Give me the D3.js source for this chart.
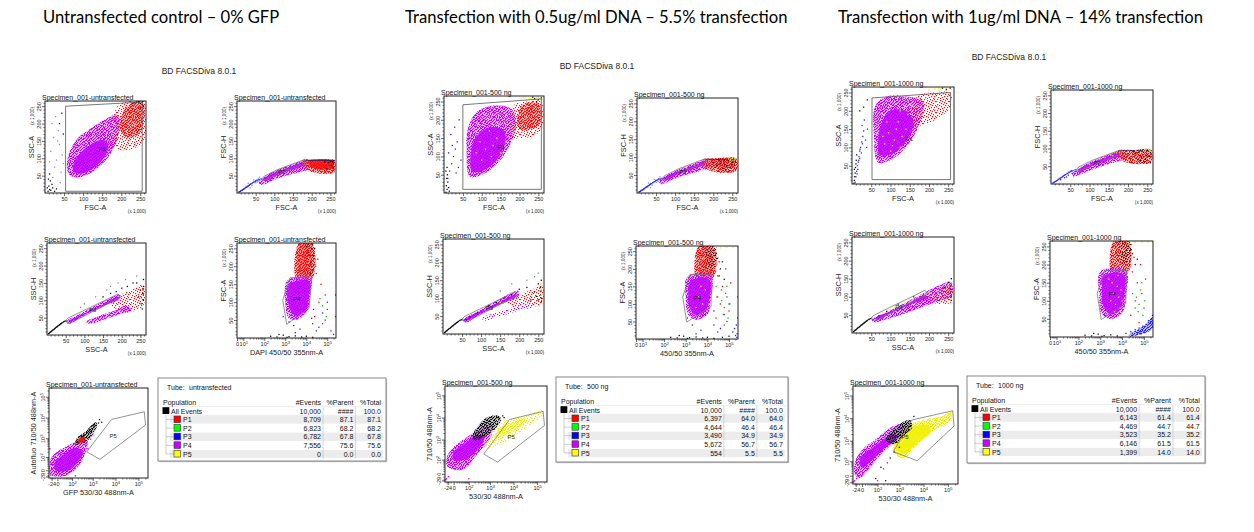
<!DOCTYPE html>
<html><head><meta charset="utf-8">
<script src="https://cdn.jsdelivr.net/npm/d3@7"></script>
<style>body{margin:0;background:#fff;}svg{display:block;}</style>
</head><body><svg id="chart" width="1254" height="532"></svg>
<script>
// ================= TEXT =================
const panelTitles = ["Untransfected control \u2013 0% GFP","Transfection with 0.5ug/ml DNA \u2013 5.5% transfection","Transfection with 1ug/ml DNA \u2013 14% transfection"];
const softwareLabel = "BD FACSDiva 8.0.1";
const specimenNames = ["Specimen_001-untransfected","Specimen_001-500 ng","Specimen_001-1000 ng"];
const tubeNames = ["untransfected","500 ng","1000 ng"];
const xLabels = {A:["FSC-A","FSC-A","FSC-A"],B:["FSC-A","FSC-A","FSC-A"],C:["SSC-A","SSC-A","SSC-A"],D:["DAPI 450/50 355nm-A","450/50 355nm-A","450/50 355nm-A"],E:["GFP 530/30 488nm-A","530/30 488nm-A","530/30 488nm-A"]};
const yLabels = {A:["SSC-A","SSC-A","SSC-A"],B:["FSC-H","FSC-H","FSC-H"],C:["SSC-H","SSC-H","SSC-H"],D:["FSC-A","FSC-A","FSC-A"],E:["Autofluo 710/50 488nm-A","710/50 488nm-A","710/50 488nm-A"]};

// ================= TABLE DATA =================
const populations = ["All Events","P1","P2","P3","P4","P5"];
const events1 = [10000,8709,6823,6782,7556,0];
const events2 = [10000,6397,4644,3490,5672,554];
const events3 = [10000,6143,4469,3523,6146,1399];
const parent1 = [null,87.1,68.2,67.8,75.6,0.0];
const parent2 = [null,64.0,46.4,34.9,56.7,5.5];
const parent3 = [null,61.4,44.7,35.2,61.5,14.0];
const total1 = [100.0,87.1,68.2,67.8,75.6,0.0];
const total2 = [100.0,64.0,46.4,34.9,56.7,5.5];
const total3 = [100.0,61.4,44.7,35.2,61.5,14.0];

// ================= AXIS TICKS =================
const linMajor = [50,100,150,200,250];
const logMajor = [5,10,100,1000,10000,100000];
const biexMajorX = [-24,0,100,1000,10000,100000];
const biexMajorY = [-29,0,100,1000,10000,100000];

// ================= GATES =================
const gateP1_1 = [[54,5],[54,250],[255,262],[255,5]];
const gateP1_2 = [[50,10],[50,241],[258,257],[258,10]];
const gateP1_3 = [[52,12],[52,235],[256,250],[256,12]];
const gateP2 = [[65,38],[72,48],[110,68],[150,84],[180,96],[182,84],[145,70],[110,55],[72,36]];
const gateP3 = [[50,40],[55,48],[190,118],[196,108],[60,33]];
const gateP4_1 = [[1680,168],[18000,171],[16000,128],[13500,83],[1170,38],[760,106]];
const gateP4_23 = [[1580,184],[15960,184],[14800,92],[1110,48],[726,120]];
const gateP5_12 = [[6800,8200],[180000,19000],[205000,4400],[2100,71],[530,200]];
const gateP5_3 = [[3270,8340],[159200,21450],[180000,4542],[5580,106],[549,308]];

// ================= STREAKS (saturation / doublet lines) =================
const fscHSatLine = [[178,94],[262,94]];
const fscOriginStreak = [[4,2],[20,13],[40,28],[66,42]];
const sscOriginStreak = [[3,3],[20,18],[40,35],[52,42]];

// ================= PANEL 1 (untransfected) =================
const p1A_mag = [[62,55],[85,45],[115,55],[145,78],[170,110],[188,150],[196,195],[190,225],[168,218],[140,200],[112,180],[88,160],[68,128],[58,92]];
const p1A_magCore = [[74,62],[98,56],[128,72],[152,98],[166,128],[160,150],[142,152],[118,138],[95,118],[78,92]];
const p1A_red = [[178,150],[195,125],[225,125],[250,140],[262,160],[262,262],[220,264],[190,250],[178,200]];
const p1A_redCore = [[195,190],[215,160],[245,170],[258,200],[258,255],[225,258],[205,235]];
const p1A_blu = [[15,120],[22,160],[30,95],[38,140],[25,75],[42,60],[18,200],[35,180],[45,110],[28,220],[40,30],[20,45],[48,85],[33,150],[12,90]];
const p1A_blk = [[8,5],[12,10],[10,20],[15,8],[6,15],[18,25],[14,35],[9,40],[20,15],[25,5],[30,12],[12,55],[38,200],[44,230],[48,170],[240,262],[250,258],[245,264],[255,262],[235,260],[250,245],[258,250],[230,258],[248,263],[256,256]];

const p1B_mag = [[58,32],[75,48],[105,65],[140,80],[175,92],[190,92],[192,70],[165,60],[130,50],[100,38],[80,28],[65,24]];
const p1B_magCore = [[70,40],[100,58],[140,74],[178,88],[180,80],[145,66],[105,50],[75,34]];
const p1B_red = [[175,95],[215,95],[260,94],[260,60],[230,55],[205,60],[185,68],[172,80]];
const p1B_redCore = [[190,92],[256,92],[256,72],[220,68],[195,78]];
const p1B_bluLine = [[5,3],[7,4],[9,5],[11,7],[13,8],[15,9],[17,11],[19,12],[21,14],[23,16],[25,17],[27,18],[29,20],[31,21],[33,23],[35,25],[37,26],[41,29],[45,32],[49,35],[53,37],[57,40]];
const p1B_lblu = [[30,28],[45,38],[50,30],[40,22],[60,45],[55,32],[35,15]];
const p1B_blk = [[255,90],[258,85],[252,80],[257,75],[250,92],[258,93],[245,88],[240,70],[235,90],[258,70]];

const p1C_magUp = [[50,38],[90,62],[140,90],[180,112],[195,118],[198,106],[150,82],[100,56],[58,32]];
const p1C_magUpCore = [[58,40],[100,62],[150,88],[190,110],[192,105],[150,84],[100,58],[60,37]];
const p1C_magLow = [[105,38],[140,55],[180,70],[215,85],[225,72],[190,58],[150,44],[115,32]];
const p1C_red = [[165,95],[200,118],[235,135],[258,145],[258,85],[235,70],[210,65],[185,75]];
const blkOriginLine = [[4,4],[6,6],[8,8],[10,9],[12,11],[14,13],[16,15],[18,16],[20,18],[22,20],[24,22],[26,23],[28,25],[30,27],[32,28],[34,30],[36,32],[38,33],[40,35],[44,38],[48,40]];
const p1C_blk = [[258,100],[256,120],[258,140],[252,90],[255,75],[250,130],[245,110],[258,160],[240,150],[230,150],[215,140],[200,135],[185,125],[170,120],[150,110],[258,115],[257,130]];
const p1C_gry = [[100,90],[130,110],[160,130],[190,150],[210,160],[240,170],[90,80],[170,140]];

const p1D_mag = [[1250,160],[16500,168],[15500,120],[12000,78],[4000,52],[1500,55],[1000,100]];
const p1D_magCore = [[1500,150],[14000,158],[13000,110],[9000,75],[3000,62],[1400,95]];
const p1D_red = [[3600,162],[19000,166],[19000,265],[4500,265]];
const p1D_redCore = [[5000,170],[13000,172],[12000,262],[6000,262]];
const p1D_blk = [[12000,240],[15000,230],[18000,250],[20000,262],[14000,200],[17000,210],[16000,180],[22000,230],[10000,255],[13000,262],[19000,190],[25000,250],[200,5],[400,3],[800,8],[1500,4],[3000,6],[6000,3],[10000,5],[20000,2],[500,10],[1200,2]];
const p1D_redDots = [[30000,180],[50000,150],[80000,120],[40000,100],[25000,60],[60000,40],[100000,80],[35000,220],[28000,200]];
const p1D_bluDots = [[20000,40],[40000,30],[80000,50],[150000,20],[200000,10],[250000,60],[250000,120],[100000,100],[60000,70],[30000,20],[5000,25],[3000,15],[800,60],[1500,45],[2500,35],[18000,55],[22000,80]];
const p1D_grnDots = [[60000,90],[90000,60],[45000,110]];

const p1E_mag = [[-30,-17],[45,-23],[206,17],[446,158],[569,723],[270,816],[65,446],[0,206],[-30,65]];
const p1E_magCore = [[-8,0],[65,0],[206,45],[346,206],[158,346],[30,158],[-8,45]];
const p1E_blk = [[150,500],[500,650],[1600,4500],[1300,6000],[450,2000],[180,1000]];
const p1E_red = [[200,600],[420,700],[450,1100],[250,1050]];
const p1E_blkDots = [[2000,8000],[1800,5500],[900,3000],[700,2600],[2500,6000],[1100,4000],[400,1500],[300,1200]];
const p1E_magDots = [[-30,-20],[600,300],[800,900],[-35,300],[150,-25],[1000,1500]];

// ================= PANEL 2 (500 ng) =================
const p2A_mag = [[69,45],[100,50],[143,82],[178,138],[191,188],[178,230],[134,239],[91,225],[65,184],[60,119]];
const p2A_magCore = [[75,60],[105,62],[140,90],[160,130],[160,170],[130,180],[95,165],[75,130]];
const p2A_red = [[178,150],[200,150],[235,155],[258,175],[258,248],[220,250],[185,240],[176,200]];
const p2A_redCore = [[200,175],[250,185],[255,240],[215,245],[195,215]];
const p2A_yel = [[205,258],[215,260],[225,259],[235,261],[245,260],[255,258],[260,255],[230,258],[210,261],[250,262],[110,120],[125,100],[95,140],[140,150],[120,170],[100,90],[150,110],[85,110],[130,130]];
const p2A_blu = [[10,40],[15,60],[20,80],[25,100],[30,120],[35,140],[18,160],[28,180],[40,200],[45,90],[12,110],[38,70],[22,130],[32,55]];
const p2A_blk = [[5,2],[8,10],[6,20],[10,30],[7,40],[9,50],[12,15],[14,5],[5,60],[8,70],[240,258],[250,255],[258,260],[245,250],[235,262]];

const p2B_mag = [[58,34],[80,50],[110,66],[145,80],[180,93],[192,88],[190,72],[160,60],[120,48],[90,36],[72,27],[62,25]];
const p2B_magCore = [[70,40],[100,58],[140,74],[176,88],[178,80],[145,66],[105,50],[75,35]];
const p2B_red = [[172,92],[215,96],[260,96],[260,62],[230,56],[200,60],[180,70]];
const p2B_redCore = [[190,92],[255,94],[255,75],[220,70],[195,80]];
const p2B_blk = [[200,85],[210,78],[220,88],[230,80],[240,90],[250,85],[255,78],[245,70],[235,75],[225,68],[215,92],[205,72],[258,88],[252,94],[238,95],[228,90],[218,82],[248,80],[242,62],[232,65]];
const p2B_yel = [[240,95],[250,96],[258,95],[255,92],[245,93],[150,78],[130,70],[110,62],[160,82],[120,66]];

const p2C_magUp = [[50,38],[90,62],[140,92],[185,118],[198,120],[198,106],[150,82],[100,56],[58,32]];
const p2C_magUpCore = [[60,42],[100,64],[150,90],[190,110],[190,104],[150,84],[100,58],[62,38]];
const p2C_magLow = [[100,45],[150,62],[200,80],[235,92],[238,78],[200,66],[150,50],[110,38]];
const p2C_red = [[170,90],[205,112],[245,130],[260,140],[260,85],[235,75],[205,70],[180,76]];
const p2C_blk = [[258,90],[258,100],[256,110],[257,120],[255,130],[250,95],[245,105],[240,118],[230,95],[250,140],[258,150],[220,130],[200,125],[180,110],[160,100],[120,80],[90,60],[70,48],[60,40],[140,88]];
const p2C_gry = [[150,120],[180,140],[220,150],[250,170],[240,160]];
const p2C_yel = [[258,110],[258,125],[256,140],[150,88],[110,68]];

const p2D_mag = [[1200,178],[15000,182],[14000,110],[10000,70],[3000,55],[1300,70],[1000,120]];
const p2D_magCore = [[1600,165],[12000,170],[12000,110],[8000,80],[3000,68],[1500,90],[1300,130]];
const p2D_red = [[3240,173],[19000,175],[19000,265],[4000,265]];
const p2D_redCore = [[5000,180],[14000,182],[13000,262],[6000,262]];
const p2D_blkCloud = [[9000,200],[22000,205],[24000,265],[10000,265]];
const p2D_blk = [[25000,245],[30000,230],[40000,200],[35000,180],[50000,220],[60000,170],[200,5],[400,3],[800,8],[1500,4],[3000,6],[6000,3],[10000,5],[20000,2],[500,10],[1200,2],[50000,5],[100000,8]];
const p2D_redDots = [[30000,180],[50000,150],[80000,120],[40000,100],[25000,60],[60000,40],[100000,80],[35000,220],[70000,200],[120000,160],[45000,140],[28000,120]];
const p2D_grn = [[60000,90],[90000,60],[45000,110],[70000,130],[110000,100],[55000,70],[30000,120],[80000,150],[25000,150]];
const p2D_blu = [[20000,40],[40000,30],[80000,50],[150000,20],[200000,10],[250000,60],[250000,120],[100000,100],[60000,70],[30000,20],[5000,25],[3000,15],[230000,5],[240000,15],[180000,30],[220000,40],[20000,80],[1200,60],[2000,40]];
const p2D_yel = [[20000,262],[40000,260],[80000,262],[150000,261],[250000,262],[4000,120],[6000,100],[8000,140],[3000,90],[5000,150],[7000,230],[10000,210]];

const p2E_mag = [[-23,30],[45,17],[270,206],[1164,1474],[1037,4725],[346,2970],[65,1164],[0,446],[-30,120]];
const p2E_magCore = [[0,89],[89,120],[346,446],[569,1474],[206,1474],[45,569],[0,270]];
const p2E_yel = [[723,446],[5960,919],[37740,3750],[189300,13340],[168700,21210],[29970,11910],[4725,7510],[1164,2347],[569,919]];
const p2E_yelCore = [[1864,1164],[29970,5960],[29970,9470],[1864,2347]];
const p2E_blk = [[206,919],[919,1864],[2970,7510],[2347,12000],[723,10000],[270,3750],[158,1474]];
const p2E_blkDots = [[1500,3000],[2500,9000],[600,6000],[300,2000],[3500,12000],[4000,10000]];
const p2E_magDots = [[-30,-20],[-35,-25],[100,-20],[40,300],[-20,-10]];

// ================= PANEL 3 (1000 ng) =================
const p3A_mag = [[68,59],[105,68],[151,116],[180,178],[184,226],[138,239],[89,239],[60,213],[57,134]];
const p3A_magCore = [[72,80],[110,85],[145,125],[160,170],[140,200],[100,200],[75,160],[68,110]];
const p3A_red = [[165,160],[195,165],[230,185],[256,210],[256,248],[210,250],[170,240],[155,200]];
const p3A_yel = [[110,120],[125,100],[95,140],[140,150],[120,170],[100,90],[150,110],[85,110],[130,130],[115,150],[105,105],[135,85],[90,170],[145,190],[125,200],[80,130],[200,258],[215,260],[230,259],[245,261],[258,258],[225,262]];
const p3A_blu = [[8,5],[10,20],[12,35],[14,50],[16,60],[18,75],[20,90],[22,100],[25,115],[28,130],[30,145],[26,160],[32,175],[15,40],[20,70],[24,85],[13,28],[35,120],[40,150],[38,100],[17,65],[21,95],[27,110]];
const p3A_blk = [[5,2],[6,10],[7,20],[8,30],[9,45],[10,55],[11,65],[6,40],[12,80],[20,200],[30,210],[40,230],[245,258],[255,262],[235,262]];

const p3B_mag = [[56,30],[80,48],[110,66],[145,82],[180,94],[192,90],[190,72],[160,60],[120,46],[90,34],[70,24],[58,22]];
const p3B_magCore = [[70,40],[100,58],[140,75],[176,89],[178,80],[145,66],[105,50],[75,34]];
const p3B_red = [[172,92],[215,96],[260,96],[260,62],[230,56],[200,60],[180,70]];
const p3B_blk = [[200,85],[210,78],[220,88],[230,80],[240,90],[250,85],[255,78],[245,70],[235,75],[225,68],[215,92],[205,72],[258,88],[252,94],[238,95],[228,90],[218,82],[248,80],[242,62],[232,65],[210,60],[258,60]];
const p3B_yel = [[80,50],[95,58],[110,64],[125,70],[140,76],[155,82],[170,88],[100,55],[130,72],[160,80],[200,92],[220,95],[240,94],[255,95],[230,85],[210,80],[250,88],[245,96],[258,96]];
const p3B_blu = [[5,3],[8,5],[11,7],[14,9],[17,11],[20,14],[23,16],[26,18],[29,20],[32,23],[35,25],[38,27],[42,30],[46,33],[50,36],[54,38],[25,12],[35,18],[45,25],[55,30],[40,20]];

const p3C_mag = [[50,36],[100,62],[150,90],[200,118],[235,135],[258,140],[258,100],[230,90],[190,75],[140,55],[95,40],[60,30]];
const p3C_magCore = [[60,40],[110,64],[160,90],[190,105],[195,98],[150,78],[105,57],[65,36]];
const p3C_red = [[200,95],[230,120],[258,135],[258,85],[235,80],[215,82]];
const p3C_yel = [[80,55],[100,65],[120,75],[140,85],[160,95],[180,105],[200,112],[220,115],[240,120],[110,72],[150,92],[170,100],[190,108],[130,82],[250,130],[258,110],[258,95]];
const p3C_blk = [[258,90],[258,100],[256,110],[257,120],[255,130],[258,150],[250,140],[240,125],[120,80],[90,60],[70,48],[160,100]];

const p3D_mag = [[1000,180],[15000,184],[15000,110],[10000,65],[3000,50],[1200,62],[900,120]];
const p3D_magCore = [[1400,168],[12000,172],[12000,110],[8000,75],[3000,62],[1400,85],[1200,130]];
const p3D_red = [[3500,176],[19000,178],[19000,265],[4200,265]];
const p3D_blkCloud = [[9000,205],[22000,210],[24000,265],[10000,265]];
const p3D_blu = [[20000,2],[100000,10],[250000,25],[250000,55],[150000,40],[60000,22],[25000,10]];
const p3D_yel = [[3000,100],[4000,120],[5000,90],[6000,140],[7000,110],[8000,80],[3500,150],[9000,130],[4500,70],[10000,100],[2500,160],[6500,170],[20000,262],[40000,261],[80000,262],[150000,262],[250000,261],[8000,220],[12000,240]];
const p3D_blk = [[25000,240],[30000,230],[40000,200],[50000,215],[200,5],[400,3],[800,8],[1500,4],[3000,6],[6000,3],[500,10],[1200,2]];
const p3D_redDots = [[30000,180],[50000,150],[80000,120],[40000,100],[25000,60],[60000,40],[100000,80],[35000,220],[70000,200],[120000,160]];
const p3D_grn = [[60000,90],[90000,60],[45000,110],[70000,130],[110000,100],[55000,70],[30000,120],[80000,150],[40000,80]];
const p3D_bluDots = [[15000,10],[25000,15],[40000,20],[60000,25],[90000,30],[130000,35],[200000,40],[250000,30],[180000,20],[100000,15],[70000,10],[50000,8],[30000,5],[220000,50],[250000,60],[160000,45]];

const p3E_mag = [[-28,89],[0,372],[73,1077],[395,3705],[1292,5550],[1725,2466],[651,873],[135,212],[23,23],[-6,-8],[-28,2]];
const p3E_magCore = [[-6,149],[73,573],[483,2004],[873,1630],[235,462],[34,89],[0,35]];
const p3E_yel = [[549,308],[901,1516],[3810,5970],[47850,11700],[144900,19440],[123300,8340],[18600,2154],[4470,531],[1464,143]];
const p3E_yelCore = [[700,400],[1200,1400],[3500,4000],[15000,5000],[20000,2500],[5000,700],[1600,250]];
const p3E_blk = [[261,1077],[534,3018],[1422,6828],[2784,8340],[3366,3696],[1422,1630],[651,708]];
const p3E_magDots = [[-30,-20],[-35,-25],[100,-20],[40,300],[-20,-10],[300,80],[200,30],[-10,200]];
const p3E_blkDots = [[150,40],[400,150],[80,-10],[600,300],[1000,500],[4000,12000],[250,-20]];

// ================= STYLE / LAYOUT =================
const FONT = "'Liberation Sans', Arial, sans-serif";
const COL = {mag:'#c200ff', red:'#ff0a0a', blk:'#111111', blu:'#2424ff', lblu:'#8a8aff', yel:'#f0f000', grn:'#00c000', gry:'#8c8c8c', navy:'#1a1a66'};
const popColors = ['#000000','#ff0000','#00ff00','#0000ff','#cc00ff','#ffff00'];
const layout = [
 {title:[43,22.5], diva:[199,74], A:[45,101,146,193], B:[237,101,336,193], C:[47,243,146,335], D:[237,243,336,338], E:[49,388,148,478], table:[158,378,386,461]},
 {title:[405,22.5], diva:[597,69], A:[444,96,544,193], B:[637,98,738,193], C:[443,239,544,334], D:[636,246,738,339], E:[445,386,547,482], table:[556,377,788,462]},
 {title:[838,22.5], diva:[1009,60], A:[852,87,954,184], B:[1051,90,1153,184], C:[852,237,954,333], D:[1050,241,1153,337], E:[853,386,958,484], table:[967,376,1205,463]}
];

const specs = [
 { A:{xType:'lin',yType:'lin',gate:gateP1_1,gl:'P1',glPos:[150,127],clouds:[[p1A_mag,'mag','M'],[p1A_magCore,'mag','S'],[p1A_red,'red','L'],[p1A_redCore,'red','M']],dots:[[p1A_blu,'lblu'],[p1A_blk,'blk']]},
   B:{xType:'lin',yType:'lin',gate:gateP2,gl:'P2',glPos:[120,60],clouds:[[p1B_mag,'mag','M'],[p1B_magCore,'mag','S'],[p1B_red,'red','M'],[p1B_redCore,'red','S']],dots:[[p1B_bluLine,'blu'],[p1B_lblu,'lblu'],[p1B_blk,'blk']],lines:[[fscHSatLine,'navy'],[fscOriginStreak,'blu']]},
   C:{xType:'lin',yType:'lin',gate:gateP3,gl:'P3',glPos:[122,73],clouds:[[p1C_red,'red','L'],[p1C_magLow,'mag','M'],[p1C_magUp,'mag','M'],[p1C_magUpCore,'mag','S']],dots:[[blkOriginLine,'blk'],[p1C_blk,'blk'],[p1C_gry,'gry']],lines:[[sscOriginStreak,'blk']]},
   D:{xType:'log',yType:'lin',gate:gateP4_1,gl:'P4',glPos:[3500,108],clouds:[[p1D_red,'red','M'],[p1D_redCore,'red','M'],[p1D_mag,'mag','M'],[p1D_magCore,'mag','S']],dots:[[p1D_blk,'blk'],[p1D_redDots,'red'],[p1D_bluDots,'blu'],[p1D_grnDots,'grn']]},
   E:{xType:'biex',yType:'biex',gate:gateP5_12,gl:'P5',glPos:[8000,1280],clouds:[[p1E_mag,'mag','M'],[p1E_magCore,'mag','S'],[p1E_blk,'blk','M'],[p1E_red,'red','S']],dots:[[p1E_blkDots,'blk'],[p1E_magDots,'mag']]} },
 { A:{xType:'lin',yType:'lin',gate:gateP1_2,gl:'P1',glPos:[152,126],clouds:[[p2A_mag,'mag','M'],[p2A_magCore,'mag','S'],[p2A_red,'red','L'],[p2A_redCore,'red','M']],dots:[[p2A_yel,'yel'],[p2A_blu,'blu'],[p2A_blk,'blk']]},
   B:{xType:'lin',yType:'lin',gate:gateP2,gl:'P2',glPos:[120,60],clouds:[[p2B_mag,'mag','M'],[p2B_magCore,'mag','S'],[p2B_red,'red','M'],[p2B_redCore,'red','M']],dots:[[p1B_bluLine,'blu'],[p1B_lblu,'lblu'],[p2B_blk,'blk'],[p2B_yel,'yel']],lines:[[fscHSatLine,'navy'],[fscOriginStreak,'blu']]},
   C:{xType:'lin',yType:'lin',gate:gateP3,gl:'P3',glPos:[122,73],clouds:[[p2C_red,'red','L'],[p2C_magLow,'mag','L'],[p2C_magUp,'mag','M'],[p2C_magUpCore,'mag','S']],dots:[[blkOriginLine,'blk'],[p2C_blk,'blk'],[p2C_gry,'gry'],[p2C_yel,'yel']],lines:[[sscOriginStreak,'blk']]},
   D:{xType:'log',yType:'lin',gate:gateP4_23,gl:'P4',glPos:[3500,118],clouds:[[p2D_red,'red','M'],[p2D_redCore,'red','M'],[p2D_blkCloud,'blk','L'],[p2D_mag,'mag','M'],[p2D_magCore,'mag','S']],dots:[[p2D_blk,'blk'],[p2D_redDots,'red'],[p2D_grn,'grn'],[p2D_blu,'blu'],[p2D_yel,'yel']]},
   E:{xType:'biex',yType:'biex',gate:gateP5_12,gl:'P5',glPos:[8000,1280],clouds:[[p2E_mag,'mag','M'],[p2E_magCore,'mag','S'],[p2E_yel,'yel','L'],[p2E_yelCore,'yel','M'],[p2E_blk,'blk','M']],dots:[[p2E_blkDots,'blk'],[p2E_magDots,'mag']]} },
 { A:{xType:'lin',yType:'lin',gate:gateP1_3,gl:'P1',glPos:[149,123],clouds:[[p3A_mag,'mag','M'],[p3A_magCore,'mag','S'],[p3A_red,'red','L']],dots:[[p3A_yel,'yel'],[p3A_blu,'blu'],[p3A_blk,'blk']]},
   B:{xType:'lin',yType:'lin',gate:gateP2,gl:'P2',glPos:[120,60],clouds:[[p3B_mag,'mag','M'],[p3B_magCore,'mag','S'],[p3B_red,'red','M']],dots:[[p3B_blu,'blu'],[p3B_blk,'blk'],[p3B_yel,'yel']],lines:[[fscHSatLine,'navy'],[fscOriginStreak,'blu']]},
   C:{xType:'lin',yType:'lin',gate:gateP3,gl:'P3',glPos:[122,73],clouds:[[p3C_mag,'mag','M'],[p3C_magCore,'mag','S'],[p3C_red,'red','L']],dots:[[blkOriginLine,'blk'],[p3C_blk,'blk'],[p3C_yel,'yel']],lines:[[sscOriginStreak,'blk']]},
   D:{xType:'log',yType:'lin',gate:gateP4_23,gl:'P4',glPos:[3500,118],clouds:[[p3D_red,'red','M'],[p3D_blkCloud,'blk','L'],[p3D_mag,'mag','M'],[p3D_magCore,'mag','S'],[p3D_blu,'blu','M']],dots:[[p3D_blk,'blk'],[p3D_redDots,'red'],[p3D_grn,'grn'],[p3D_bluDots,'blu'],[p3D_yel,'yel']]},
   E:{xType:'biex',yType:'biex',gate:gateP5_3,gl:'P5',glPos:[1725,1516],clouds:[[p3E_mag,'mag','M'],[p3E_magCore,'mag','S'],[p3E_yel,'yel','M'],[p3E_yelCore,'yel','S'],[p3E_blk,'blk','M']],dots:[[p3E_magDots,'mag'],[p3E_blkDots,'blk']]} }
];

// ================= DRAWING =================
const svg = d3.select('#chart');
svg.append('rect').attr('width',1254).attr('height',532).attr('fill','#fff');
const defs = svg.append('defs');
const tileA = {w:13,h:11,rows:[[1,7,11],[4,9],[0,6,12],[3,8],[5,10],[1,7],[3,9,12],[0,5],[8,11],[2,6],[4,10]]};
const tileB = {w:7,h:9,rows:[[0,3,5],[2,6],[1,4],[0,3,6],[2,5],[1,4],[3,6],[0,5],[2,4]]};
function addPattern(id, tile, c, bg){
  const p = defs.append('pattern').attr('id',id).attr('width',tile.w).attr('height',tile.h).attr('patternUnits','userSpaceOnUse');
  if(bg) p.append('rect').attr('width',tile.w).attr('height',tile.h).attr('fill',c).attr('fill-opacity',bg);
  tile.rows.forEach((xs,y)=>xs.forEach(x=>p.append('rect').attr('x',x).attr('y',y).attr('width',1.15).attr('height',1.15).attr('fill',c)));
}
Object.entries(COL).forEach(([k,c])=>{ addPattern('A-'+k, tileA, c, 0); addPattern('B-'+k, tileB, c, 0.2); });

function mkScale(type, range){
  if(type==='lin') return d3.scaleLinear().domain([0,265]).range(range);
  if(type==='log') return d3.scaleLog().domain([5,262143]).range(range);
  return d3.scaleSymlog().constant(30).domain([-40,262143]).range(range);
}
function majors(type, axis){
  if(type==='lin') return linMajor;
  if(type==='log') return logMajor;
  return axis==='x'?biexMajorX:biexMajorY;
}
function minors(type){
  if(type==='lin') return d3.range(10,265,10).filter(v=>v%50!==0);
  const out=[];
  if(type==='log'){ [6,7,8,9,20,30,40,50,60,70,80,90].forEach(v=>out.push(v)); }
  else { [-30,-20,-10,10,20,30,40,50,60,70,80,90].forEach(v=>out.push(v)); }
  [100,1000,10000,100000].forEach(dec=>{ for(let m=2;m<=9;m++){ const v=m*dec; if(v<=262143) out.push(v);} });
  return out;
}
function tickText(d,type){
  if(type==='lin') return String(d);
  if(type==='log' && d===5) return '0';
  if(d>=10 && Math.abs(Math.log10(d)-Math.round(Math.log10(d)))<1e-9) return '10^'+Math.round(Math.log10(d));
  return String(d);
}
function writeTick(sel, s){
  sel.text(null);
  if(s.includes('^')){ const [b,e]=s.split('^'); sel.append('tspan').text(b); sel.append('tspan').attr('dy','-0.45em').attr('font-size','0.75em').text(e); }
  else sel.text(s);
}

function drawPlot(spec, frame, pi, key){
  const [x0,y0,x1,y1]=frame;
  const xs=mkScale(spec.xType,[x0,x1]), ys=mkScale(spec.yType,[y1,y0]);
  const id=`clip-${pi}-${key}`;
  defs.append('clipPath').attr('id',id).append('rect').attr('x',x0).attr('y',y0).attr('width',x1-x0).attr('height',y1-y0);
  const g=svg.append('g').attr('font-family',FONT);
  const body=g.append('g').attr('clip-path',`url(#${id})`);
  const area=d3.line().x(d=>xs(d[0])).y(d=>ys(d[1])).curve(d3.curveCatmullRomClosed.alpha(0.5));
  spec.clouds.forEach(([pts,ck,lv])=>{
    const d=area(pts);
    if(lv==='S'){
      body.append('path').attr('d',d).attr('fill',COL[ck]).attr('fill-opacity',0.85);
    } else {
      body.append('path').attr('d',d).attr('fill',`url(#A-${ck})`);
      if(lv==='M') body.append('path').attr('d',d).attr('fill',`url(#B-${ck})`);
    }
  });
  const gl=d3.line().x(d=>xs(d[0])).y(d=>ys(d[1]));
  (spec.lines||[]).forEach(([pts,ck])=>{
    body.append('path').attr('d',gl(pts)).attr('fill','none').attr('stroke',COL[ck]).attr('stroke-width',0.8);
  });
  spec.dots.forEach(([pts,ck])=>{
    body.append('g').selectAll('rect').data(pts).join('rect')
      .attr('x',d=>xs(d[0])-0.6).attr('y',d=>ys(d[1])-0.6).attr('width',1.3).attr('height',1.3).attr('fill',COL[ck]);
  });
  body.append('path').attr('d',gl(spec.gate)+'Z').attr('fill','none').attr('stroke', key==='A'?'#555':'#777').attr('stroke-width',0.8);
  g.append('text').attr('x',xs(spec.glPos[0])).attr('y',ys(spec.glPos[1])).attr('text-anchor','middle').attr('dy','0.35em')
    .attr('font-size',6).attr('fill','#222').text(spec.gl);
  g.append('rect').attr('x',x0).attr('y',y0).attr('width',x1-x0).attr('height',y1-y0).attr('fill','none').attr('stroke','#222').attr('stroke-width',1);

  const xm=g.append('g').attr('transform',`translate(0,${y1})`).call(d3.axisBottom(xs).tickValues(minors(spec.xType)).tickSize(1.6).tickFormat(''));
  xm.select('.domain').remove(); xm.selectAll('line').attr('stroke','#222').attr('stroke-width',0.6);
  const xa=g.append('g').attr('transform',`translate(0,${y1})`).call(d3.axisBottom(xs).tickValues(majors(spec.xType,'x')).tickSize(3).tickPadding(1).tickFormat(''));
  xa.select('.domain').remove(); xa.attr('font-size',5.5).attr('font-family',FONT);
  xa.selectAll('line').attr('stroke','#222').attr('stroke-width',0.7);
  xa.selectAll('.tick text').each(function(d){ writeTick(d3.select(this).attr('fill','#222'), tickText(d,spec.xType)); });
  const ym=g.append('g').attr('transform',`translate(${x0},0)`).call(d3.axisLeft(ys).tickValues(minors(spec.yType)).tickSize(1.6).tickFormat(''));
  ym.select('.domain').remove(); ym.selectAll('line').attr('stroke','#222').attr('stroke-width',0.6);
  const ya=g.append('g').attr('transform',`translate(${x0},0)`).call(d3.axisLeft(ys).tickValues(majors(spec.yType,'y')).tickSize(3).tickFormat(''));
  ya.select('.domain').remove(); ya.attr('font-size',5.5).attr('font-family',FONT);
  ya.selectAll('line').attr('stroke','#222').attr('stroke-width',0.7);
  ya.selectAll('.tick text').attr('x',null).attr('dy',null).attr('text-anchor','middle').attr('transform','translate(-4.5,0) rotate(-90)')
    .each(function(d){ writeTick(d3.select(this).attr('fill','#222'), tickText(d,spec.yType)); });

  g.append('text').attr('x',x0-3).attr('y',y0-1.5).attr('font-size',7).attr('fill','#111').text(specimenNames[pi]);
  g.append('text').attr('x',(x0+x1)/2).attr('y',y1+17).attr('text-anchor','middle').attr('font-size',7.3).attr('fill','#222').text(xLabels[key][pi]);
  const ylx = x0-(spec.yType==='biex'?13:11);
  g.append('text').attr('transform',`translate(${ylx},${(y0+y1)/2}) rotate(-90)`).attr('text-anchor','middle').attr('font-size',7.3).attr('fill','#222').text(yLabels[key][pi]);
  if(spec.xType==='lin') g.append('text').attr('x',x1).attr('y',y1+19.5).attr('text-anchor','end').attr('font-size',4.6).attr('fill','#222').text('(x 1,000)');
  if(spec.yType==='lin') g.append('text').attr('transform',`translate(${x0-11},${y0+15}) rotate(-90)`).attr('text-anchor','middle').attr('font-size',4.6).attr('fill','#222').text('(x 1,000)');
}

const fmtInt=d3.format(','), fmt1=d3.format('.1f');
const eventsAll=[events1,events2,events3], parentAll=[parent1,parent2,parent3], totalAll=[total1,total2,total3];
function drawTable(pi, box){
  const [bx0,by0,bx1,by1]=box, w=bx1-bx0, h=by1-by0;
  const g=svg.append('g').attr('font-family',FONT).attr('font-size',7).attr('fill','#111');
  g.append('rect').attr('x',bx0+1.2).attr('y',by0+1.2).attr('width',w).attr('height',h).attr('fill','#c8c8c8');
  g.append('rect').attr('x',bx0).attr('y',by0).attr('width',w).attr('height',h).attr('fill','#fff').attr('stroke','#7a7a7a').attr('stroke-width',0.9);
  g.append('text').attr('x',bx0+9).attr('y',by0+12).text('Tube:');
  g.append('text').attr('x',bx0+31).attr('y',by0+12).text(tubeNames[pi]);
  const hy=by0+26.5;
  const cE=bx0+w*0.715, cP=bx0+w*0.857, cT=bx0+w*0.978;
  const rowY=i=>by0+35.5+i*8.6;
  populations.forEach((p,i)=>{ if(i%2===1) g.append('rect').attr('x',bx0+12).attr('y',rowY(i)-6.6).attr('width',cT+2-(bx0+12)).attr('height',8.2).attr('fill','#ececec'); });
  g.append('rect').attr('x',bx0+10).attr('y',rowY(0)-6.8).attr('width',cT+2-(bx0+10)).attr('height',8.4).attr('fill','none').attr('stroke','#e2e2e2').attr('stroke-width',0.5);
  [cE+2,cP+2].forEach(x=>g.append('line').attr('x1',x).attr('x2',x).attr('y1',rowY(0)-6.8).attr('y2',rowY(5)+1.8).attr('stroke','#bdbdbd').attr('stroke-width',0.6));
  g.append('text').attr('x',bx0+5).attr('y',hy).text('Population');
  g.append('text').attr('x',cE).attr('y',hy).attr('text-anchor','end').text('#Events');
  g.append('text').attr('x',cP).attr('y',hy).attr('text-anchor','end').text('%Parent');
  g.append('text').attr('x',cT).attr('y',hy).attr('text-anchor','end').text('%Total');
  g.append('line').attr('x1',bx0+8).attr('x2',bx0+8).attr('y1',rowY(0)+1).attr('y2',rowY(5)-2.6).attr('stroke','#9a9a9a').attr('stroke-width',0.5);
  populations.forEach((p,i)=>{
    const y=rowY(i);
    if(i===0){
      g.append('rect').attr('x',bx0+4.5).attr('y',y-6.3).attr('width',6.8).attr('height',6.8).attr('fill',popColors[0]);
      g.append('text').attr('x',bx0+13).attr('y',y).text(p);
    } else {
      g.append('line').attr('x1',bx0+8).attr('x2',bx0+16).attr('y1',y-2.6).attr('y2',y-2.6).attr('stroke','#9a9a9a').attr('stroke-width',0.5);
      g.append('rect').attr('x',bx0+16).attr('y',y-6.1).attr('width',6.6).attr('height',6.6).attr('fill',popColors[i]).attr('stroke','#333').attr('stroke-width',0.6);
      g.append('text').attr('x',bx0+25).attr('y',y).text(p);
    }
    g.append('text').attr('x',cE).attr('y',y).attr('text-anchor','end').text(fmtInt(eventsAll[pi][i]));
    const pv=parentAll[pi][i];
    g.append('text').attr('x',cP).attr('y',y).attr('text-anchor','end').text(pv===null?'####':fmt1(pv));
    g.append('text').attr('x',cT).attr('y',y).attr('text-anchor','end').text(fmt1(totalAll[pi][i]));
  });
}

layout.forEach((L,pi)=>{
  svg.append('text').attr('x',L.title[0]).attr('y',L.title[1]).attr('font-family','Lato, "Open Sans", sans-serif').attr('font-size',16.6).attr('fill','#000').text(panelTitles[pi]);
  svg.append('text').attr('x',L.diva[0]).attr('y',L.diva[1]).attr('text-anchor','middle').attr('font-family',FONT).attr('font-size',8.5).attr('fill','#222').text(softwareLabel);
  ['A','B','C','D','E'].forEach(k=>drawPlot(specs[pi][k], L[k], pi, k));
  drawTable(pi, L.table);
});
</script></body></html>
